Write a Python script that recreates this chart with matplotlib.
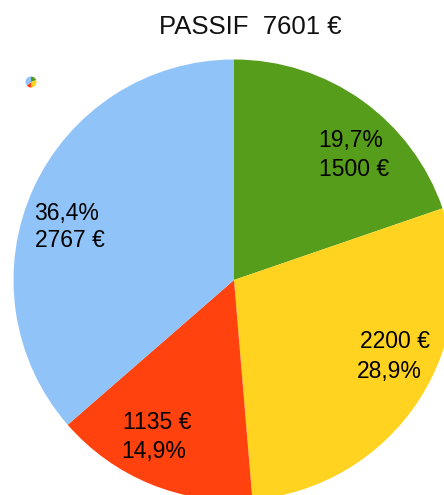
from matplotlib import pyplot as plt

W, H = 444, 495

values = [1500, 2200, 1135, 2767]
colors = ['#579d1c', '#ffd320', '#ff420e', '#90c4f9']
amounts = ['1500 €', '2200 €', '1135 €', '2767 €']
percents = ['19,7%', '28,9%', '14,9%', '36,4%']
title = 'PASSIF  7601 €'

plt.rcParams['font.family'] = ['Liberation Sans', 'DejaVu Sans']

fig = plt.figure(figsize=(W / 100, H / 100), dpi=100)
ax = fig.add_axes([0, 0, 1, 1])
ax.set_xlim(0, W)
ax.set_ylim(H, 0)
ax.axis('off')

# pie axes in pixel terms, runs past the right and bottom edge like the original
cx, cy, r = 234, 280, 220.5
pie_ax = fig.add_axes([(cx - r) / W, 1 - (cy + r) / H, 2 * r / W, 2 * r / H])
pie_ax.pie(values, colors=colors, startangle=90, counterclock=False, radius=1)
pie_ax.set_xlim(-1, 1)
pie_ax.set_ylim(-1, 1)
pie_ax.set_zorder(0)
pie_ax.patch.set_alpha(0)

# tiny pie icon top left
ix, iy, ir = 31, 82, 5.5
icon_ax = fig.add_axes([(ix - ir) / W, 1 - (iy + ir) / H, 2 * ir / W, 2 * ir / H])
icon_ax.pie(values, colors=colors, startangle=90, counterclock=False, radius=1)
icon_ax.set_xlim(-1, 1)
icon_ax.set_ylim(-1, 1)

ax.set_zorder(3)
ax.patch.set_alpha(0)
ax.text(250.5, 34, title, fontsize=18.55, ha='center', va='baseline', color='#111111')

fs = 16.5
ax.text(318, 147, percents[0], fontsize=fs, va='baseline')
ax.text(318.5, 176, amounts[0], fontsize=fs, va='baseline')
ax.text(359.5, 348, amounts[1], fontsize=fs, va='baseline')
ax.text(357, 378, percents[1], fontsize=fs, va='baseline')
ax.text(123, 429, amounts[2], fontsize=fs, va='baseline')
ax.text(121.5, 458, percents[2], fontsize=fs, va='baseline')
ax.text(34, 220, percents[3], fontsize=fs, va='baseline')
ax.text(34.5, 247, amounts[3], fontsize=fs, va='baseline')

fig.savefig('out.png', dpi=100)
